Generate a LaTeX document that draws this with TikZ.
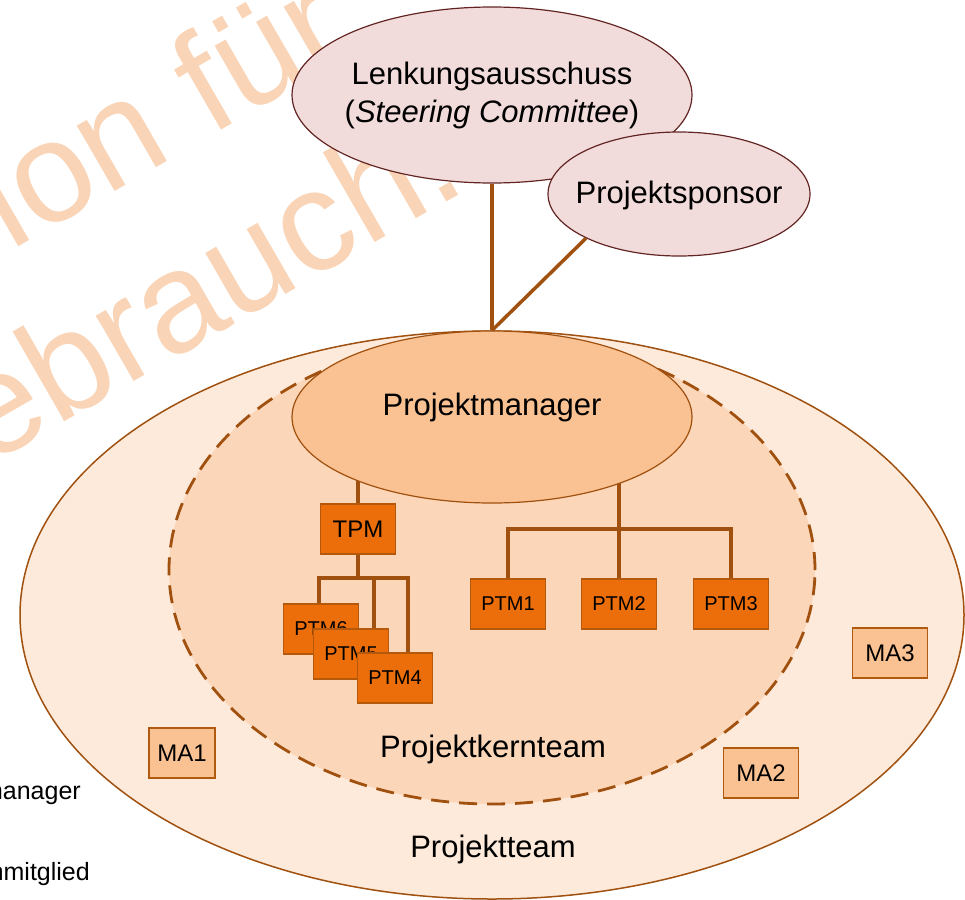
\documentclass[tikz,border=0pt]{standalone}
\usepackage{fontspec}
\setmainfont{Liberation Sans}
\usetikzlibrary{shapes.geometric}
\definecolor{linec}{HTML}{A0500F}
\definecolor{lenkfill}{HTML}{F2DCDB}
\definecolor{lenkdraw}{HTML}{632523}
\definecolor{teamfill}{HTML}{FDEADA}
\definecolor{kernfill}{HTML}{FBD6B8}
\definecolor{pmfill}{HTML}{FAC292}
\definecolor{ptmfill}{HTML}{EB6E0A}
\definecolor{ptmdraw}{HTML}{B4590B}
\definecolor{madraw}{HTML}{B05A10}
\definecolor{wmark}{HTML}{FAD4B6}
\tikzset{
  conn/.style={draw=linec, line width=3.5pt},
  bigell/.style={ellipse, inner sep=0pt},
  topell/.style={ellipse, draw=lenkdraw, fill=lenkfill, line width=1.2pt, inner sep=0pt},
  lbl/.style={inner sep=0pt, anchor=base, font=\fontsize{31}{36}\selectfont},
  ptmbox/.style={rectangle, draw=ptmdraw, fill=ptmfill, line width=1.5pt, minimum width=75pt, minimum height=50pt, inner sep=0pt, font=\fontsize{20}{24}\selectfont},
  mabox/.style={rectangle, draw=madraw, fill=pmfill, line width=1.5pt, minimum width=75pt, minimum height=50pt, inner sep=0pt, font=\fontsize{24}{28}\selectfont},
  wm/.style={text=wmark, inner sep=0pt, rotate=30, anchor=base east, font=\fontsize{143}{150}\selectfont},
  sidetxt/.style={inner sep=0pt, anchor=base east, font=\fontsize{25}{30}\selectfont}
}
\begin{document}
\begin{tikzpicture}[x=1pt,y=-1pt]
\useasboundingbox (0,0) rectangle (965,899);
\begin{scope}
\clip (0,0) rectangle (965,899);
% watermark
\node[wm] (wm1) at (355,53) {Version für};
\node[wm] (wm2) at (470,188) {Gebrauch.};
% side texts (cut off)
\node[sidetxt] (side1) at (81,799) {Projektmanager};
\node[sidetxt] (side2) at (90,880) {Projektteammitglied};
% team ellipses
\node[bigell, draw=linec, fill=teamfill, line width=1.5pt, minimum width=944pt, minimum height=568pt] (team) at (492,615) {};
\node[bigell, draw=linec, fill=kernfill, line width=2.8pt, dash pattern=on 18pt off 10pt, minimum width=646pt, minimum height=468pt] (kern) at (492,570) {};
% connectors inside
\coordinate (bus1) at (619,529);
\coordinate (bus2) at (358,578);
\node[ptmbox, font=\fontsize{24}{28}\selectfont] (tpm) at (358,529) {TPM};
\node[ptmbox] (ptm1) at (508,604) {PTM1};
\node[ptmbox] (ptm2) at (619,604) {PTM2};
\node[ptmbox] (ptm3) at (731,604) {PTM3};
\draw[conn] (tpm.north) -- (tpm.north |- 0,417);
\draw[conn] (ptm2.north) -- (ptm2.north |- 0,417);
\draw[conn] (ptm1.north) |- (bus1) -| (ptm3.north);
\draw[conn] (tpm.south) -- (bus2);
\coordinate (d6) at (319,604);
\coordinate (d5) at (374,629);
\coordinate (d4) at (408,653);
\draw[conn] (d6) |- (bus2) -| (d4);
\draw[conn] (d5) -- (d5 |- bus2);
% redraw boxes on top of lines
\node[ptmbox, font=\fontsize{24}{28}\selectfont] at (tpm) {TPM};
\node[ptmbox] at (ptm1) {PTM1};
\node[ptmbox] at (ptm2) {PTM2};
\node[ptmbox] at (ptm3) {PTM3};
\node[ptmbox] (ptm6) at (321,629) {PTM6};
\node[ptmbox] (ptm5) at (351,654) {PTM5};
\node[ptmbox] (ptm4) at (395,678) {PTM4};
% project manager
\node[bigell, draw=linec, fill=pmfill, line width=1.2pt, minimum width=400pt, minimum height=172pt] (pm) at (492,417) {};
\node[lbl] (pmtxt) at (492,415) {Projektmanager};
% top ellipses
\node[topell, minimum width=400pt, minimum height=176pt] (lenk) at (492,95) {};
\node[lbl] (lenktxt1) at (492,84) {Lenkungsausschuss};
\node[lbl] (lenktxt2) at (492,122) {(\textit{Steering Committee})};
\node[topell, minimum width=262pt, minimum height=124pt] (sponsor) at (679,194) {};
\node[lbl] (sponsortxt) at (679,203) {Projektsponsor};
\draw[conn] (lenk.south) -- (pm.north);
\draw[conn] (sponsor.south west) -- (pm.north);
% labels
\node[lbl] (kerntxt) at (493,757) {Projektkernteam};
\node[lbl] (teamtxt) at (493,857) {Projektteam};
% MA boxes
\node[mabox, minimum width=66pt] (ma1) at (182,753) {MA1};
\node[mabox] (ma2) at (761,773) {MA2};
\node[mabox] (ma3) at (890,653) {MA3};
\end{scope}
\end{tikzpicture}
\end{document}
